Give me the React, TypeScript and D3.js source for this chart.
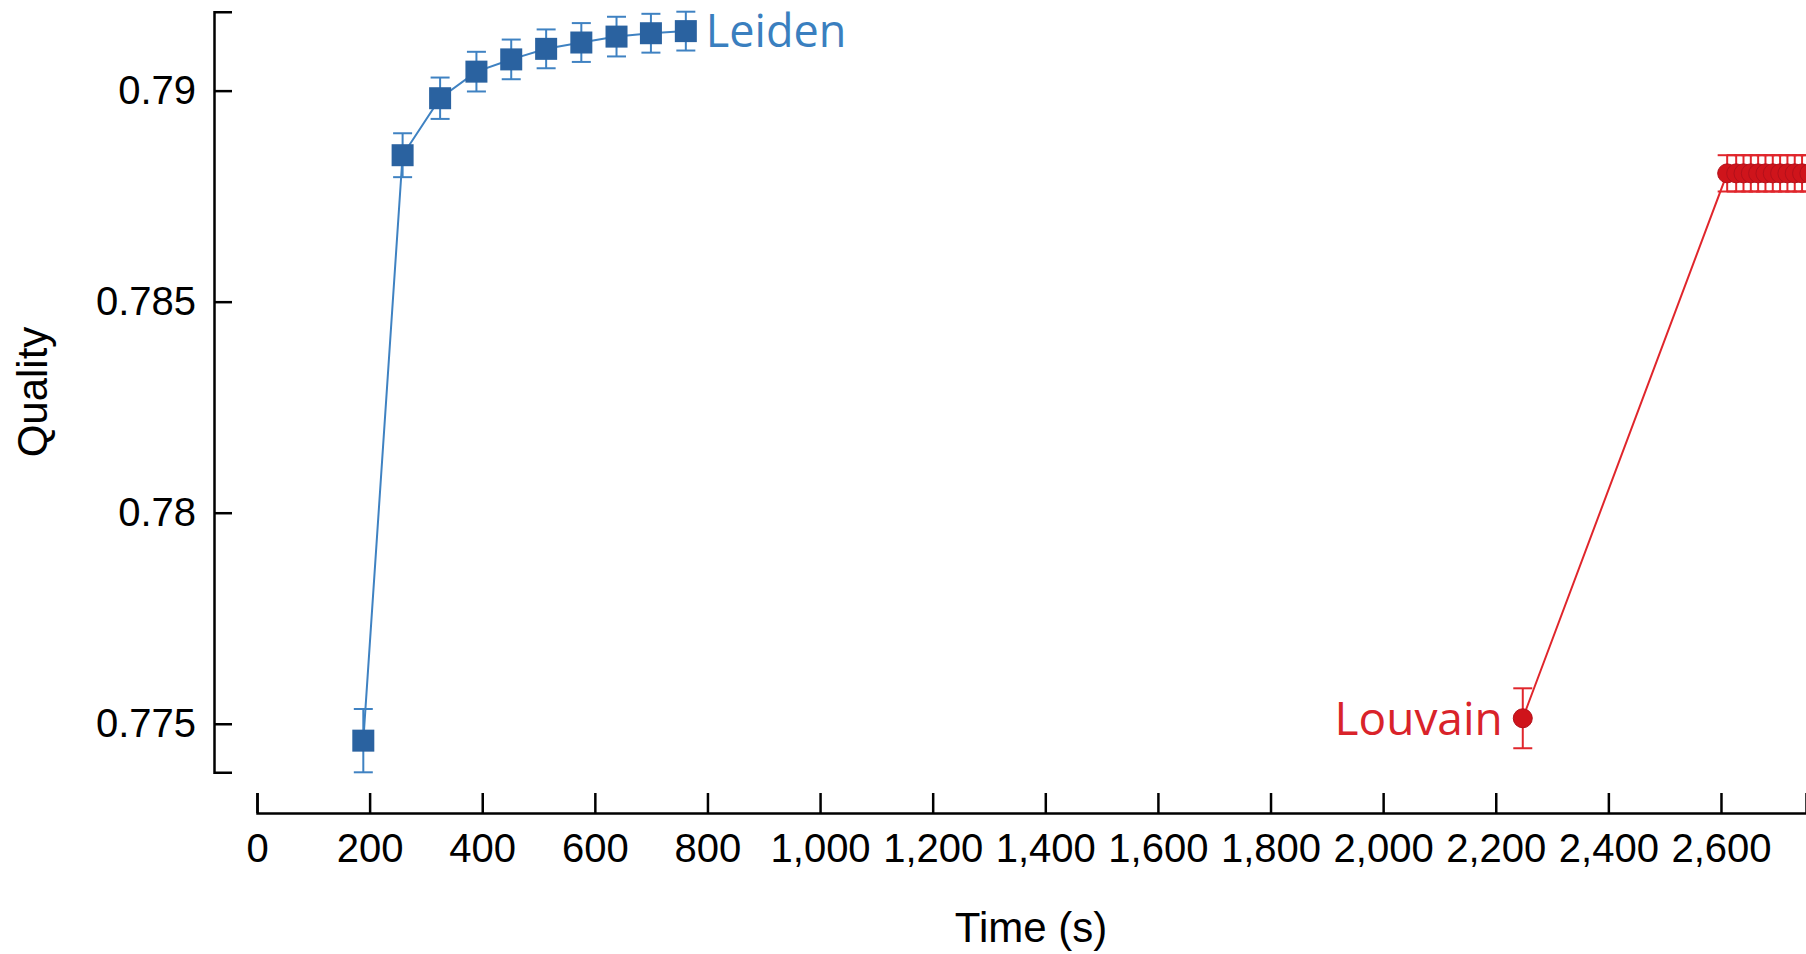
import { useEffect, useRef } from 'react';
import * as d3 from 'd3';

const leidenTime = [188.8, 258.6, 325.2, 389.7, 451.5, 513.5, 576, 638.5, 699.6, 761.6];
const leidenQuality = [0.7746, 0.78847, 0.78982, 0.79045, 0.79074, 0.79099, 0.79114, 0.79128, 0.79136, 0.79141];
const leidenError = [0.00075, 0.00052, 0.00049, 0.00047, 0.00047, 0.00046, 0.00046, 0.00047, 0.00046, 0.00046];

const louvainTime = [2248, 2611, 2627, 2640, 2653, 2666, 2679, 2692, 2705, 2718, 2731, 2744, 2757];
const louvainQuality = [0.77513, 0.78804, 0.78804, 0.78804, 0.78804, 0.78804, 0.78804, 0.78804, 0.78804, 0.78804, 0.78804, 0.78804, 0.78804];
const louvainError = [0.00071, 0.00043, 0.00043, 0.00043, 0.00043, 0.00043, 0.00043, 0.00043, 0.00043, 0.00043, 0.00043, 0.00043, 0.00043];

const xTicks = [0, 200, 400, 600, 800, 1000, 1200, 1400, 1600, 1800, 2000, 2200, 2400, 2600];
const yTicks = [0.775, 0.78, 0.785, 0.79];
const xMax = 2751;

const W = 1806;
const H = 954;
const font = '"Liberation Sans", Arial, sans-serif';

const App = () => {
    const ref = useRef<SVGSVGElement>(null);

    useEffect(() => {
        const svg = d3.select(ref.current);
        svg.selectAll('*').remove();

        const leiden = leidenTime.map((t, i) => ({ t, q: leidenQuality[i], e: leidenError[i] }));
        const louvain = louvainTime.map((t, i) => ({ t, q: louvainQuality[i], e: louvainError[i] }));

        const x = d3.scaleLinear().domain([0, xMax]).range([257, 1806]);
        const y = d3.scaleLinear()
            .domain([d3.min(leiden, d => d.q - d.e), d3.max(leiden, d => d.q + d.e)])
            .range([772.3, 11.7]);

        // axes
        const yAxis = svg.append('g')
            .attr('transform', 'translate(214,0)')
            .call(d3.axisLeft(y).tickValues(yTicks).tickSize(-18).tickPadding(18).tickFormat(d => String(d)));
        const xAxis = svg.append('g')
            .attr('transform', 'translate(0,813)')
            .call(d3.axisBottom(x).tickValues(xTicks).tickSize(-20).tickPadding(21).tickFormat(d3.format(',')));

        [yAxis, xAxis].forEach(g => {
            g.attr('font-family', font).attr('font-size', 40);
            g.selectAll('path, line').attr('stroke', '#000').attr('stroke-width', 2.5);
            g.selectAll('text').attr('fill', '#000');
        });

        svg.append('text')
            .attr('transform', 'translate(47,392) rotate(-90)')
            .attr('text-anchor', 'middle')
            .attr('font-family', font)
            .attr('font-size', 42)
            .text('Quality');

        svg.append('text')
            .attr('x', 1031)
            .attr('y', 942)
            .attr('text-anchor', 'middle')
            .attr('font-family', font)
            .attr('font-size', 42)
            .text('Time (s)');

        const line = d3.line<{ t: number; q: number }>().x(d => x(d.t)).y(d => y(d.q));

        const drawSeries = (data, lineColor, markColor, square) => {
            const g = svg.append('g');
            g.append('path')
                .datum(data)
                .attr('d', line)
                .attr('fill', 'none')
                .attr('stroke', lineColor)
                .attr('stroke-width', 2);

            const err = g.append('g').attr('stroke', lineColor).attr('stroke-width', 2);
            err.selectAll('.v').data(data).enter().append('line')
                .attr('x1', d => x(d.t)).attr('x2', d => x(d.t))
                .attr('y1', d => y(d.q - d.e)).attr('y2', d => y(d.q + d.e));
            err.selectAll('.top').data(data).enter().append('line')
                .attr('x1', d => x(d.t) - 9.5).attr('x2', d => x(d.t) + 9.5)
                .attr('y1', d => y(d.q + d.e)).attr('y2', d => y(d.q + d.e));
            err.selectAll('.bot').data(data).enter().append('line')
                .attr('x1', d => x(d.t) - 9.5).attr('x2', d => x(d.t) + 9.5)
                .attr('y1', d => y(d.q - d.e)).attr('y2', d => y(d.q - d.e));

            if (square) {
                g.selectAll('rect').data(data).enter().append('rect')
                    .attr('x', d => x(d.t) - 11)
                    .attr('y', d => y(d.q) - 11)
                    .attr('width', 22)
                    .attr('height', 22)
                    .attr('fill', markColor);
            } else {
                g.selectAll('circle').data(data).enter().append('circle')
                    .attr('cx', d => x(d.t))
                    .attr('cy', d => y(d.q))
                    .attr('r', 9.5)
                    .attr('fill', markColor)
                    .attr('stroke', '#b3101a')
                    .attr('stroke-width', 1);
            }
        };

        drawSeries(leiden, '#3f82c2', '#2a62a0', true);
        drawSeries(louvain, '#e0262c', '#cf141b', false);

        const lastLeiden = leiden[leiden.length - 1];
        svg.append('text')
            .attr('x', x(lastLeiden.t) + 20)
            .attr('y', y(lastLeiden.q))
            .attr('dy', '0.36em')
            .attr('font-family', '"Open Sans", sans-serif')
            .attr('font-size', 45)
            .attr('fill', '#3a7fbf')
            .text('Leiden');

        const firstLouvain = louvain[0];
        svg.append('text')
            .attr('x', x(firstLouvain.t) - 20)
            .attr('y', y(firstLouvain.q))
            .attr('dy', '0.36em')
            .attr('text-anchor', 'end')
            .attr('font-family', '"Open Sans", sans-serif')
            .attr('font-size', 46)
            .attr('fill', '#d9232a')
            .text('Louvain');

        return () => {
            svg.selectAll('*').remove();
        };
    }, []);

    return (
        <svg
            ref={ref}
            width={W}
            height={H}
            style={{ position: 'absolute', left: 0, top: 0, background: '#fff' }}
        />
    );
};

export default App;
